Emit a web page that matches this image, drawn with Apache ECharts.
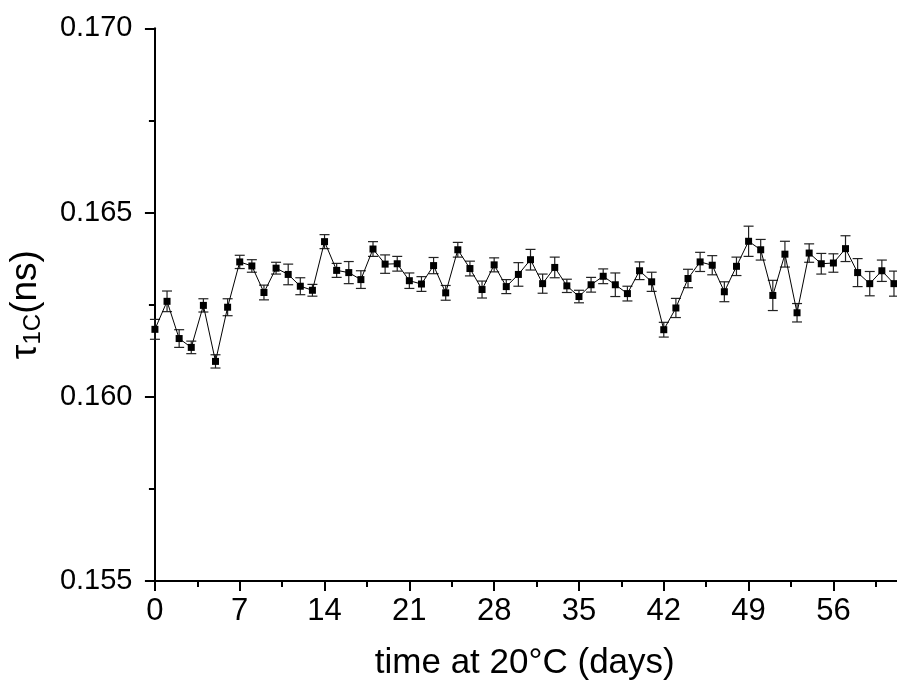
<!DOCTYPE html>
<html>
<head>
<meta charset="utf-8">
<script src="https://cdn.jsdelivr.net/npm/echarts@6/dist/echarts.min.js"></script>
<style>
  html, body { margin: 0; padding: 0; background: #fff; }
  #main { width: 897px; height: 686px; }
</style>
</head>
<body>
<div id="main"></div>
<script>
// days at 20 C
var days = [];
for (var d = 0; d <= 61; d++) days.push(d);

// tau_1C (ns)
var tau = [
    0.16183, 0.16259, 0.16158, 0.16134, 0.16248, 0.16096, 0.16243, 0.16366,
    0.16355, 0.16283, 0.16349, 0.16332, 0.16300, 0.16289, 0.16421, 0.16343,
    0.16337, 0.16318, 0.16401, 0.16360, 0.16361, 0.16315, 0.16306, 0.16356,
    0.16282, 0.16399, 0.16348, 0.16291, 0.16358, 0.16299, 0.16332, 0.16372,
    0.16307, 0.16351, 0.16301, 0.16272, 0.16304, 0.16327, 0.16304, 0.16280,
    0.16342, 0.16312, 0.16182, 0.16241, 0.16321, 0.16366, 0.16357, 0.16285,
    0.16354, 0.16422, 0.16399, 0.16275, 0.16387, 0.16228, 0.16390, 0.16361,
    0.16363, 0.16402, 0.16337, 0.16307, 0.16342, 0.16307
];

// half height of the error bars (ns)
var tauErr = [
    0.00027, 0.00028, 0.00024, 0.00017, 0.00018, 0.00018, 0.00023, 0.00018,
    0.00017, 0.00020, 0.00016, 0.00028, 0.00023, 0.00016, 0.00019, 0.00019,
    0.00030, 0.00024, 0.00020, 0.00025, 0.00020, 0.00021, 0.00020, 0.00022,
    0.00020, 0.00020, 0.00020, 0.00023, 0.00019, 0.00019, 0.00032, 0.00028,
    0.00026, 0.00028, 0.00018, 0.00017, 0.00020, 0.00020, 0.00032, 0.00020,
    0.00024, 0.00026, 0.00020, 0.00026, 0.00025, 0.00026, 0.00026, 0.00027,
    0.00025, 0.00041, 0.00028, 0.00041, 0.00035, 0.00025, 0.00025, 0.00028,
    0.00025, 0.00035, 0.00038, 0.00033, 0.00029, 0.00034
];

var xMajorTicks = [0, 7, 14, 21, 28, 35, 42, 49, 56];
var xMinorTicks = [3.5, 10.5, 17.5, 24.5, 31.5, 38.5, 45.5, 52.5, 59.5];

var lineData = days.map(function(d, i) { return [d, tau[i]]; });
var errData = days.map(function(d, i) { return [d, tau[i] - tauErr[i], tau[i] + tauErr[i]]; });

var myChart = echarts.init(document.getElementById('main'));

var font = 'Liberation Sans, Arial, sans-serif';

option = {
    backgroundColor: '#fff',
    animation: false,
    grid: {
        left: 152.5,
        right: 0,
        top: 28.3,
        bottom: 105,
        containLabel: false,
        outerBoundsMode: 'none'
    },
    xAxis: [{
        type: 'value',
        min: -0.2,
        max: 61.25,
        name: 'time at 20°C (days)',
        nameLocation: 'middle',
        nameGap: 65,
        nameTextStyle: { fontFamily: font, fontSize: 35, color: '#000' },
        axisLine: { show: true, onZero: false, lineStyle: { color: '#000', width: 2 } },
        axisTick: { show: true, inside: false, length: 10, lineStyle: { color: '#000', width: 2 }, customValues: xMajorTicks },
        axisLabel: { fontFamily: font, fontSize: 31, color: '#000', margin: 15, customValues: xMajorTicks },
        splitLine: { show: false }
    }, {
        type: 'value',
        position: 'bottom',
        min: -0.2,
        max: 61.25,
        axisLine: { show: false },
        axisTick: { show: true, inside: false, length: 6, lineStyle: { color: '#000', width: 2 }, customValues: xMinorTicks },
        axisLabel: { show: false },
        splitLine: { show: false }
    }],
    yAxis: {
        type: 'value',
        min: 0.155,
        max: 0.170,
        interval: 0.005,
        name: '{t|τ}{s|1C}{t|(ns)}',
        nameLocation: 'middle',
        nameGap: 107,
        nameTextStyle: {
            color: '#000',
            rich: {
                t: { fontFamily: font, fontSize: 37, color: '#000' },
                s: { fontFamily: font, fontSize: 24, color: '#000', padding: [15, 0, 0, 0] }
            }
        },
        axisLine: { show: true, lineStyle: { color: '#000', width: 2 } },
        axisTick: { show: true, inside: false, length: 10, lineStyle: { color: '#000', width: 2 } },
        minorTick: { show: true, splitNumber: 2, length: 6, lineStyle: { color: '#000', width: 2 } },
        axisLabel: {
            fontFamily: font, fontSize: 29, color: '#000', margin: 20,
            formatter: function(v) { return v.toFixed(3); }
        },
        splitLine: { show: false },
        minorSplitLine: { show: false }
    },
    series: [{
            name: 'err',
            type: 'custom',
            xAxisIndex: 0,
            data: errData,
            z: 2,
            renderItem: function(params, api) {
                var lo = api.coord([api.value(0), api.value(1)]);
                var hi = api.coord([api.value(0), api.value(2)]);
                var w = 5;
                var st = { stroke: '#222', lineWidth: 1.2 };
                return {
                    type: 'group',
                    children: [
                        { type: 'line', shape: { x1: lo[0], y1: lo[1], x2: hi[0], y2: hi[1] }, style: st },
                        { type: 'line', shape: { x1: lo[0] - w, y1: lo[1], x2: lo[0] + w, y2: lo[1] }, style: st },
                        { type: 'line', shape: { x1: hi[0] - w, y1: hi[1], x2: hi[0] + w, y2: hi[1] }, style: st }
                    ]
                };
            }
        },
        {
            name: 'tau1C',
            type: 'line',
            xAxisIndex: 0,
            data: lineData,
            z: 3,
            symbol: 'rect',
            symbolSize: 7,
            itemStyle: { color: '#000' },
            lineStyle: { color: '#000', width: 1 }
        }
    ]
};

myChart.setOption(option);
</script>
</body>
</html>
